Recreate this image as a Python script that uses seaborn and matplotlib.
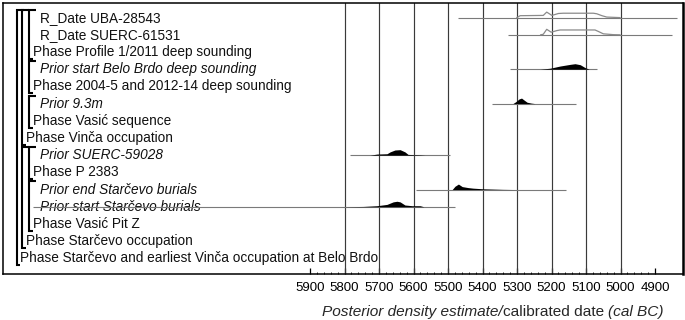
import matplotlib
matplotlib.use("Agg")
import matplotlib.pyplot as plt
import matplotlib.transforms as mtransforms
from matplotlib.ticker import FixedLocator
import seaborn as sns
import pandas as pd

sns.set_style("white")
plt.rcParams['font.family'] = ['Liberation Sans', 'DejaVu Sans']

# ---- data -------------------------------------------------------------
labels = [
    "R_Date UBA-28543",
    "R_Date SUERC-61531",
    "Phase Profile 1/2011 deep sounding",
    "Prior start Belo Brdo deep sounding",
    "Phase 2004-5 and 2012-14 deep sounding",
    "Prior 9.3m",
    "Phase Vasić sequence",
    "Phase Vinča occupation",
    "Prior SUERC-59028",
    "Phase P 2383",
    "Prior end Starčevo burials",
    "Prior start Starčevo burials",
    "Phase Vasić Pit Z",
    "Phase Starčevo occupation",
    "Phase Starčevo and earliest Vinča occupation at Belo Brdo",
]
label_level = [3, 3, 2, 3, 2, 3, 2, 1, 3, 2, 3, 3, 2, 1, 0]
label_italic = [False, False, False, True, False, True, False, False,
                True, False, True, True, False, False, False]

# (level, first row, last row)
groups = [(2, 0, 2), (2, 3, 4), (2, 5, 6), (2, 8, 9), (2, 10, 12),
          (1, 0, 7), (1, 8, 13), (0, 0, 14)]

# unmodelled likelihoods (outline)
uba_dates = [5301, 5291, 5224, 5214, 5199, 5180, 5166, 5079, 5069, 5054, 5040, 5001]
uba_dens = [0.0, 0.35, 0.4, 1.0, 0.4, 0.75, 0.8, 0.8, 0.7, 0.35, 0.1, 0.0]
suerc61531_dates = [5232, 5224, 5214, 5201, 5185, 5175, 5074, 5064, 5050, 5021, 5001]
suerc61531_dens = [0.0, 0.1, 1.0, 0.47, 0.76, 0.88, 0.88, 0.6, 0.18, 0.03, 0.0]

# posterior densities (filled)
belo_start_dates = [5233, 5204, 5175, 5146, 5132, 5117, 5103, 5091]
belo_start_dens = [0.0, 0.18, 0.58, 0.88, 1.0, 0.82, 0.3, 0.0]
prior93_dates = [5312, 5303, 5294, 5287, 5280, 5271, 5259, 5248]
prior93_dens = [0.0, 0.38, 0.85, 1.0, 0.66, 0.25, 0.09, 0.0]
suerc59028_dates = [5726, 5706, 5677, 5668, 5654, 5639, 5625, 5616, 5581, 5567]
suerc59028_dens = [0.0, 0.2, 0.26, 0.6, 0.94, 1.0, 0.6, 0.14, 0.06, 0.0]
end_starc_dates = [5488, 5480, 5470, 5459, 5442, 5428, 5399, 5341, 5300]
end_starc_dens = [0.0, 0.6, 1.0, 0.54, 0.36, 0.26, 0.14, 0.04, 0.0]
start_starc_dates = [5813, 5746, 5706, 5677, 5659, 5648, 5639, 5625, 5604, 5581, 5570]
start_starc_dens = [0.0, 0.06, 0.19, 0.43, 0.89, 1.0, 0.89, 0.32, 0.19, 0.19, 0.0]

# prior ranges (start, end cal BC)
range_rows = [0, 1, 3, 5, 8, 10, 11]
range_start = [5472, 5326, 5320, 5372, 5784, 5593, 6703]
range_end = [4837, 4851, 5068, 5129, 5494, 5158, 5480]

tick_years = [5900, 5800, 5700, 5600, 5500, 5400, 5300, 5200, 5100, 5000, 4900]
grid_years = [5800, 5700, 5600, 5500, 5400, 5300, 5200, 5100, 5000]

# ---- figure -----------------------------------------------------------
W, H = 685, 320
fig = plt.figure(figsize=(W / 100, H / 100), dpi=100)
ax = fig.add_axes([3 / W, (H - 274) / H, 680 / W, 271 / H])
ax.set_xlim(6790, 4819)
ax.set_ylim(14.96, -0.80)

PEAK = 0.32    # peak height in row units
BASE = 0.05    # baseline offset below row centre

for y in grid_years:
    ax.axvline(y, color='#3a3a3a', lw=0.85, zorder=1)

ax.hlines([r + BASE for r in range_rows], range_start, range_end,
          color='#7a7a7a', lw=0.8, zorder=4)

outl = []
for row, d, p in [(0, uba_dates, uba_dens), (1, suerc61531_dates, suerc61531_dens)]:
    outl.append(pd.DataFrame({'date': d, 'y': [row + BASE - v * PEAK for v in p], 'row': row}))
outl = pd.concat(outl)
sns.lineplot(data=outl, x='date', y='y', units='row', estimator=None, sort=False,
             color='#8a8a8a', lw=0.9, ax=ax, zorder=4)
ax.set_xlabel("")
ax.set_ylabel("")

for row, d, p in [(3, belo_start_dates, belo_start_dens),
                  (5, prior93_dates, prior93_dens),
                  (8, suerc59028_dates, suerc59028_dens),
                  (10, end_starc_dates, end_starc_dens),
                  (11, start_starc_dates, start_starc_dens)]:
    base = row + BASE
    ax.fill_between(d, [base] * len(d), [base - v * PEAK for v in p],
                    color='black', lw=0, zorder=5)

# labels and brackets (x in figure pixels, y in rows)
trans = mtransforms.blended_transform_factory(fig.transFigure, ax.transData)
text_x = {0: 20.5, 1: 26.5, 2: 33, 3: 39.5}
brack_x = {0: 16.5, 1: 22, 2: 29}

for i, (lab, lev, it) in enumerate(zip(labels, label_level, label_italic)):
    ax.text(text_x[lev] / W, i + 0.28, lab, transform=trans, fontsize=9.85,
            style='italic' if it else 'normal', va='baseline', ha='left',
            color='#111111', zorder=3)

for lev, r0, r1 in groups:
    bx = brack_x[lev] / W
    top, bot = r0 - 0.42, r1 + 0.45
    ax.plot([bx + 7 / W, bx, bx, bx + 3.5 / W], [top, top, bot, bot],
            transform=trans, color='black', lw=1.5, solid_capstyle='butt',
            solid_joinstyle='miter', clip_on=False, zorder=6)

# axis
ax.set_yticks([])
ax.xaxis.set_major_locator(FixedLocator(tick_years))
ax.xaxis.set_minor_locator(FixedLocator(list(range(4900, 5901, 20))))
ax.set_xticklabels([str(t) for t in tick_years], fontsize=9.5)
ax.tick_params(axis='x', which='major', direction='in', length=4.2, width=0.9,
               pad=6, bottom=True, colors='black')
ax.tick_params(axis='x', which='minor', direction='in', length=1.8, width=0.7,
               bottom=True)
for s in ax.spines.values():
    s.set_color('black')
    s.set_linewidth(1.1)
ax.spines['right'].set_linewidth(1.8)

t1 = fig.text(322 / W, (H - 315.7) / H, "Posterior density estimate/",
              style='italic', fontsize=11.1, va='baseline', ha='left')
t2 = ax.annotate("calibrated date ", xy=(1, 0), xycoords=t1, fontsize=11.1,
                 va='bottom', ha='left', annotation_clip=False)
t3 = ax.annotate("(cal BC)", xy=(1, 0), xycoords=t2, fontsize=11.1,
                 style='italic', va='bottom', ha='left', annotation_clip=False)

fig.savefig("out.png", dpi=100)
